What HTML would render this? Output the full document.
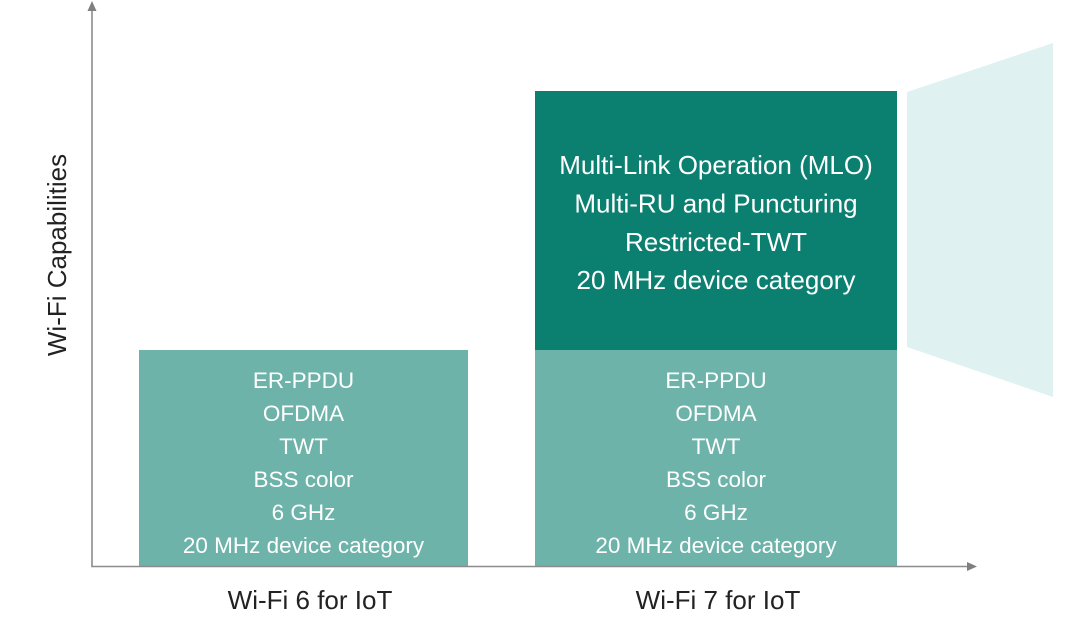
<!DOCTYPE html>
<html><head><meta charset="utf-8"><style>
html,body{margin:0;padding:0;background:#fff;}
svg{display:block;}
text{font-family:"Liberation Sans",Arial,sans-serif;}
</style></head><body>
<svg width="1080" height="638" viewBox="0 0 1080 638" xmlns="http://www.w3.org/2000/svg">
<rect width="1080" height="638" fill="#fff"/>
<!-- trapezoid -->
<polygon points="907,92 1053,43 1053,397 907,347" fill="#dff2f1"/>
<!-- boxes -->
<rect x="139" y="350" width="329" height="217" fill="#6db3aa"/>
<rect x="535" y="350" width="362" height="217" fill="#6db3aa"/>
<rect x="535" y="91" width="362" height="259" fill="#0b7f70"/>
<!-- axes -->
<line x1="92" y1="10" x2="92" y2="566.5" stroke="#8c8c8c" stroke-width="1.6"/>
<polygon points="92,1 87.5,11 96.5,11" fill="#7f7f7f"/>
<line x1="91.2" y1="566.5" x2="968" y2="566.5" stroke="#8c8c8c" stroke-width="1.6"/>
<polygon points="977,566.5 967,562 967,571" fill="#7f7f7f"/>
<!-- dark text -->
<g fill="#ffffff" font-size="26" text-anchor="middle">
<text x="716" y="174">Multi-Link Operation (MLO)</text>
<text x="716" y="212.5">Multi-RU and Puncturing</text>
<text x="716" y="251">Restricted-TWT</text>
<text x="716" y="289">20 MHz device category</text>
</g>
<!-- light text -->
<g fill="#ffffff" font-size="22.5" text-anchor="middle">
<text x="303.5" y="388">ER-PPDU</text>
<text x="303.5" y="421">OFDMA</text>
<text x="303.5" y="454">TWT</text>
<text x="303.5" y="487">BSS color</text>
<text x="303.5" y="520">6 GHz</text>
<text x="303.5" y="553">20 MHz device category</text>
<text x="716" y="388">ER-PPDU</text>
<text x="716" y="421">OFDMA</text>
<text x="716" y="454">TWT</text>
<text x="716" y="487">BSS color</text>
<text x="716" y="520">6 GHz</text>
<text x="716" y="553">20 MHz device category</text>
</g>
<!-- labels -->
<g fill="#222" font-size="26" text-anchor="middle">
<text x="310" y="609">Wi-Fi 6 for IoT</text>
<text x="718" y="609">Wi-Fi 7 for IoT</text>
<text transform="translate(66,255) rotate(-90)" x="0" y="0">Wi-Fi Capabilities</text>
</g>
</svg>
</body></html>
